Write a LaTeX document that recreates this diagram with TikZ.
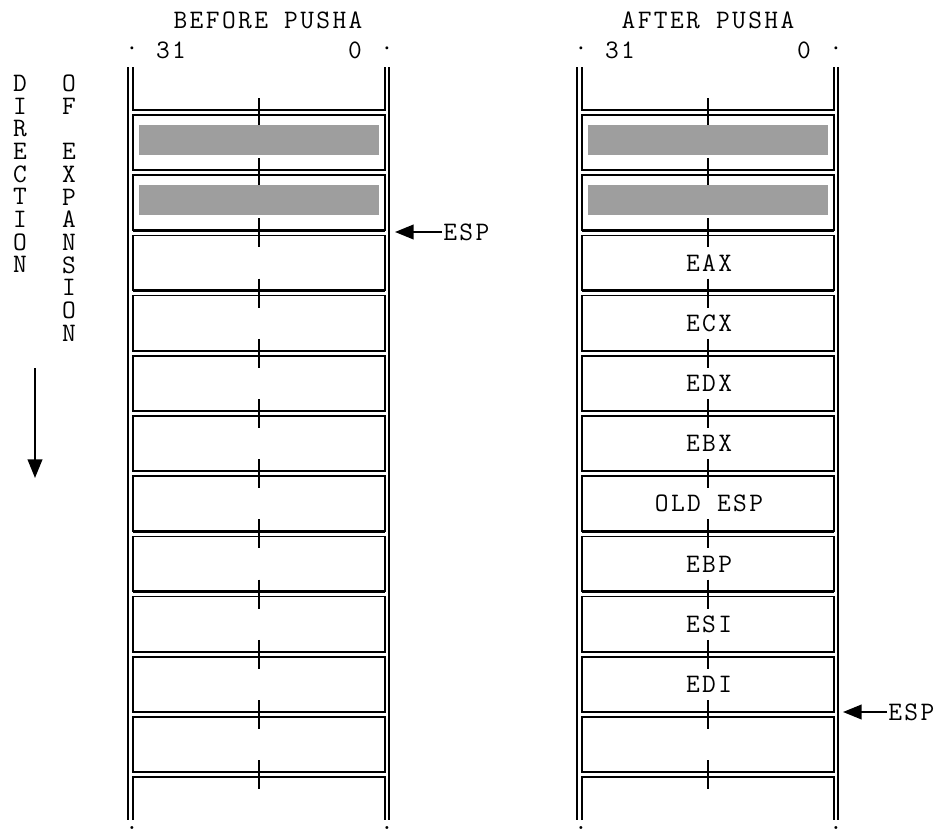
\documentclass[tikz,border=0pt]{standalone}
\usepackage{fontspec}
\setmonofont[LetterSpace=9]{Latin Modern Mono}
\usetikzlibrary{arrows.meta, positioning, calc}

\begin{document}
\begin{tikzpicture}[x=0.75pt, y=-0.75pt]
    % Define styles
    \tikzset{
        row box/.style={draw=black, line width=1.1pt},
        row floor/.style={draw=black, line width=1.9pt},
        side line/.style={draw=black, line width=1.4pt},
        mid tick/.style={draw=black, line width=1.3pt},
        shaded field/.style={fill=black!38},
        arrow style/.style={-{Triangle[length=14pt, width=11pt]}, line width=1.4pt},
        label style/.style={font=\ttfamily\fontsize{20}{17}\selectfont, inner sep=0.75pt}
    }
    \useasboundingbox (0,0) rectangle (943,835);

    % Both stacks share the same frame
    \foreach \s/\dx in {bef/0, aft/449} {
        \begin{scope}[shift={(\dx,0)}]
            % outer walls
            \draw[side line] (128,67) -- (128,820);
            \draw[side line] (389,67) -- (389,820);
            % open cells at top and bottom
            \draw[side line] (133,67) -- (133,110) -- (385,110) -- (385,67);
            \draw[side line] (133,820) -- (133,777) -- (385,777) -- (385,820);
            % 11 DOUBLEWORD ROWS
            \foreach \k in {0,...,10}
                \draw[row box] (133,{115+60.2*\k}) rectangle (385,{170.2+60.2*\k});
            \foreach \k in {0,...,11}
                \draw[row floor] (133,{110+60.2*\k}) -- (385,{110+60.2*\k});
            % middle ticks
            \foreach \k in {0,...,11}
                \draw[mid tick] (259,{98+60.2*\k}) -- (259,{127+60.2*\k});
            % used slots
            \fill[shaded field] (139,125) rectangle (379,155);
            \fill[shaded field] (139,185) rectangle (379,215);
            % bit numbers
            \node[label style] (b31-\s) at (171,50) {31};
            \node[label style] (b0-\s) at (355,50) {0};
            \node[label style] (dl-\s) at (132,52) {·};
            \node[label style] (dr-\s) at (387,52) {·};
            \node[label style, anchor=base] (bl-\s) at (132,829) {.};
            \node[label style, anchor=base] (br-\s) at (387,829) {.};
        \end{scope}
    }

    % Headings
    \node[label style] (head-bef) at (268,20) {BEFORE PUSHA};
    \node[label style] (head-aft) at (708,20) {AFTER PUSHA};

    % Pushed registers
    \foreach \k/\reg in {2/EAX, 3/ECX, 4/EDX, 5/EBX, 6/OLD ESP, 7/EBP, 8/ESI, 9/EDI}
        \node[label style] (reg-\k) at (709,{110+60.2*\k+32.6}) {\reg};

    % Stack pointers
    \node[label style, anchor=west] (esp-bef) at (442,232) {ESP};
    \coordinate (top-bef) at (395,232);
    \draw[arrow style] (esp-bef.west) -- (top-bef);
    \node[label style, anchor=west] (esp-aft) at (887,712) {ESP};
    \coordinate (top-aft) at (843,712);
    \draw[arrow style] (esp-aft.west) -- (top-aft);

    % Direction of expansion
    \node[label style, align=center, anchor=north] (dir) at (20,74)
        {D\\I\\R\\E\\C\\T\\I\\O\\N};
    \node[label style, align=center, anchor=north] (exp) at (69,74)
        {O\\F\\~\\E\\X\\P\\A\\N\\S\\I\\O\\N};
    \coordinate (dir-from) at (35,368);
    \coordinate (dir-to) at (35,478);
    \draw[arrow style] (dir-from) -- (dir-to);
\end{tikzpicture}
\end{document}
